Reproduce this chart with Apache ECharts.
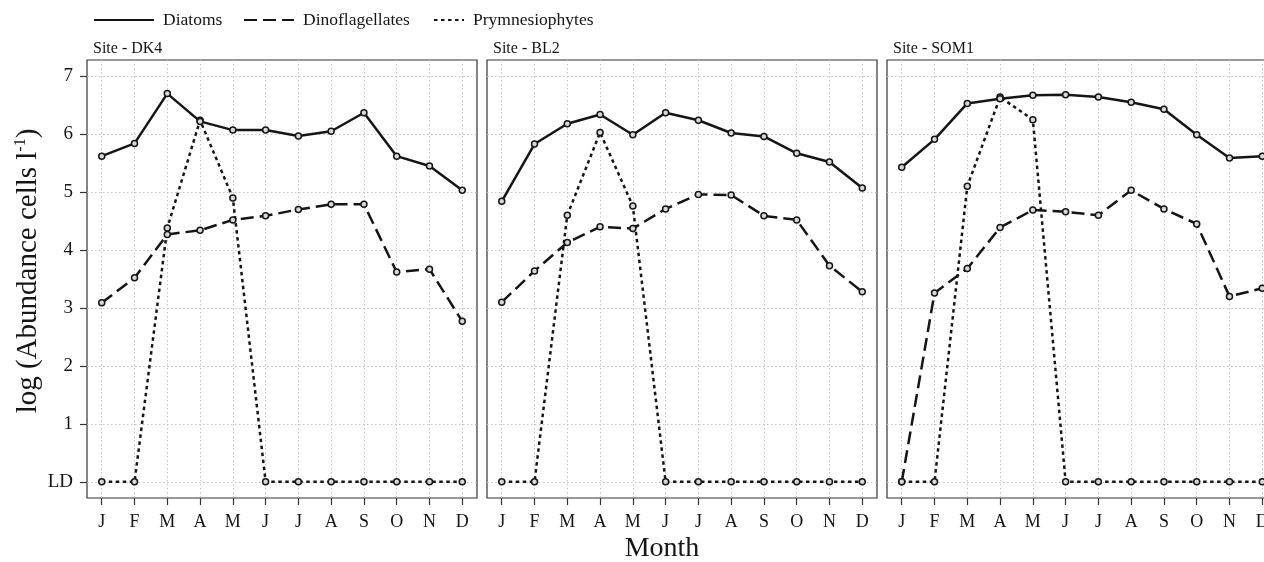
<!DOCTYPE html>
<html>
<head>
<meta charset="utf-8">
<script src="https://cdn.jsdelivr.net/npm/echarts@6/dist/echarts.min.js"></script>
<style>
  html, body { margin: 0; padding: 0; background: #fff; overflow: hidden; }
  /* canvas is a little wider than the page so the third panel runs off the right edge */
  #chart { width: 1290px; height: 562px; }
</style>
</head>
<body>
<div id="chart"></div>
<script>
// Month axis and log-abundance axis labels
const months = ['J', 'F', 'M', 'A', 'M', 'J', 'J', 'A', 'S', 'O', 'N', 'D'];
const yTickValues = [0, 1, 2, 3, 4, 5, 6, 7];
const yTickLabels = ['LD', '1', '2', '3', '4', '5', '6', '7'];
const siteNames = ['Site - DK4', 'Site - BL2', 'Site - SOM1'];
const groupNames = ['Diatoms', 'Dinoflagellates', 'Prymnesiophytes'];

// log(abundance cells l-1); 0 = below limit of detection (LD)
const dk4Diatoms = [5.62, 5.84, 6.70, 6.22, 6.07, 6.07, 5.97, 6.05, 6.37, 5.62, 5.45, 5.03];
const dk4Dinoflagellates = [3.09, 3.52, 4.27, 4.34, 4.52, 4.59, 4.70, 4.79, 4.79, 3.62, 3.67, 2.77];
const dk4Prymnesiophytes = [0, 0, 4.38, 6.24, 4.90, 0, 0, 0, 0, 0, 0, 0];

const bl2Diatoms = [4.84, 5.83, 6.18, 6.34, 5.99, 6.37, 6.24, 6.02, 5.96, 5.67, 5.52, 5.07];
const bl2Dinoflagellates = [3.10, 3.64, 4.13, 4.40, 4.37, 4.71, 4.96, 4.95, 4.59, 4.52, 3.73, 3.28];
const bl2Prymnesiophytes = [0, 0, 4.60, 6.03, 4.76, 0, 0, 0, 0, 0, 0, 0];

const som1Diatoms = [5.43, 5.91, 6.53, 6.61, 6.67, 6.68, 6.64, 6.55, 6.43, 5.99, 5.59, 5.62];
const som1Dinoflagellates = [0, 3.26, 3.68, 4.39, 4.69, 4.66, 4.60, 5.03, 4.71, 4.45, 3.20, 3.34];
const som1Prymnesiophytes = [0, 0, 5.10, 6.64, 6.25, 0, 0, 0, 0, 0, 0, 0];

const siteData = [
  [dk4Diatoms, dk4Dinoflagellates, dk4Prymnesiophytes],
  [bl2Diatoms, bl2Dinoflagellates, bl2Prymnesiophytes],
  [som1Diatoms, som1Dinoflagellates, som1Prymnesiophytes]
];

const FONT = '"Liberation Serif", "DejaVu Serif", serif';
const INK = '#151515';
const lineTypes = ['solid', [13, 6], [3.5, 3.5]];
const panelLefts = [87, 487, 887];
const panelWidth = 390;
const monthIdx = months.map((m, i) => i);

const grids = panelLefts.map(l => ({
  left: l, top: 60, width: panelWidth, height: 438,
  show: true, borderColor: '#333', borderWidth: 1.2, backgroundColor: '#fff'
}));

const gridLine = { show: true, lineStyle: { color: '#c4c4c4', width: 1, type: [1.5, 2.5] } };

const xAxes = panelLefts.map((l, g) => ({
  type: 'value', gridIndex: g, min: -0.45, max: 11.45,
  axisLine: { show: false, onZero: false },
  axisTick: { show: true, customValues: monthIdx, length: 7, lineStyle: { color: '#333', width: 1.2 } },
  axisLabel: {
    customValues: monthIdx, margin: 15,
    formatter: v => months[Math.round(v)],
    fontFamily: FONT, fontSize: 18, color: INK
  },
  splitLine: gridLine
}));

const yAxes = panelLefts.map((l, g) => ({
  type: 'value', gridIndex: g, min: -0.28, max: 7.28,
  axisLine: { show: false, onZero: false },
  axisTick: { show: g === 0, customValues: yTickValues, length: 7, lineStyle: { color: '#333', width: 1.2 } },
  axisLabel: {
    show: g === 0, customValues: yTickValues, margin: 14,
    formatter: v => yTickLabels[yTickValues.indexOf(Math.round(v))],
    fontFamily: FONT, fontSize: 19, color: INK
  },
  splitLine: gridLine
}));

const series = [];
siteData.forEach((groups, g) => {
  groups.forEach((vals, k) => {
    series.push({
      name: groupNames[k], type: 'line', xAxisIndex: g, yAxisIndex: g,
      data: vals.map((v, i) => [i, v]),
      symbol: 'circle', symbolSize: 6, showSymbol: true,
      lineStyle: { color: INK, width: 2.5, type: lineTypes[k] },
      itemStyle: { color: '#d8d8d8', borderColor: INK, borderWidth: 1.5 },
      z: 3 - k, animation: false, silent: true
    });
  });
});

const legendLefts = [88, 238, 428];
const legendWidths = [60, 50, 30];
const legends = groupNames.map((n, k) => ({
  data: [n], left: legendLefts[k], top: 6, itemWidth: legendWidths[k], itemHeight: 18,
  itemStyle: { opacity: 0 },
  textStyle: { fontFamily: FONT, fontSize: 17.5, color: INK, padding: [0, 0, 0, 4] },
  selectedMode: false
}));

const titles = siteNames.map((s, g) => ({
  text: s, left: panelLefts[g] + 6, top: 41, padding: 0,
  textStyle: { fontFamily: FONT, fontSize: 16, fontWeight: 'normal', color: INK }
}));

const chart = echarts.init(document.getElementById('chart'), null, { renderer: 'canvas' });
chart.setOption({
  backgroundColor: '#fff',
  animation: false,
  title: titles,
  legend: legends,
  grid: grids,
  xAxis: xAxes,
  yAxis: yAxes,
  series: series,
  graphic: [{
    type: 'text', x: 662, y: 549,
    style: { text: 'Month', textAlign: 'center', textVerticalAlign: 'middle', fontFamily: FONT, fontSize: 28, fill: INK }
  }, {
    type: 'text', x: 28, y: 271, rotation: Math.PI / 2,
    style: {
      text: '{a|log (Abundance cells l}{s|-1}{a|)}',
      textAlign: 'center', textVerticalAlign: 'middle',
      rich: {
        a: { fontFamily: FONT, fontSize: 29, fill: INK },
        s: { fontFamily: FONT, fontSize: 16, fill: INK, padding: [0, 0, 14, 0] }
      }
    }
  }]
});
</script>
</body>
</html>
